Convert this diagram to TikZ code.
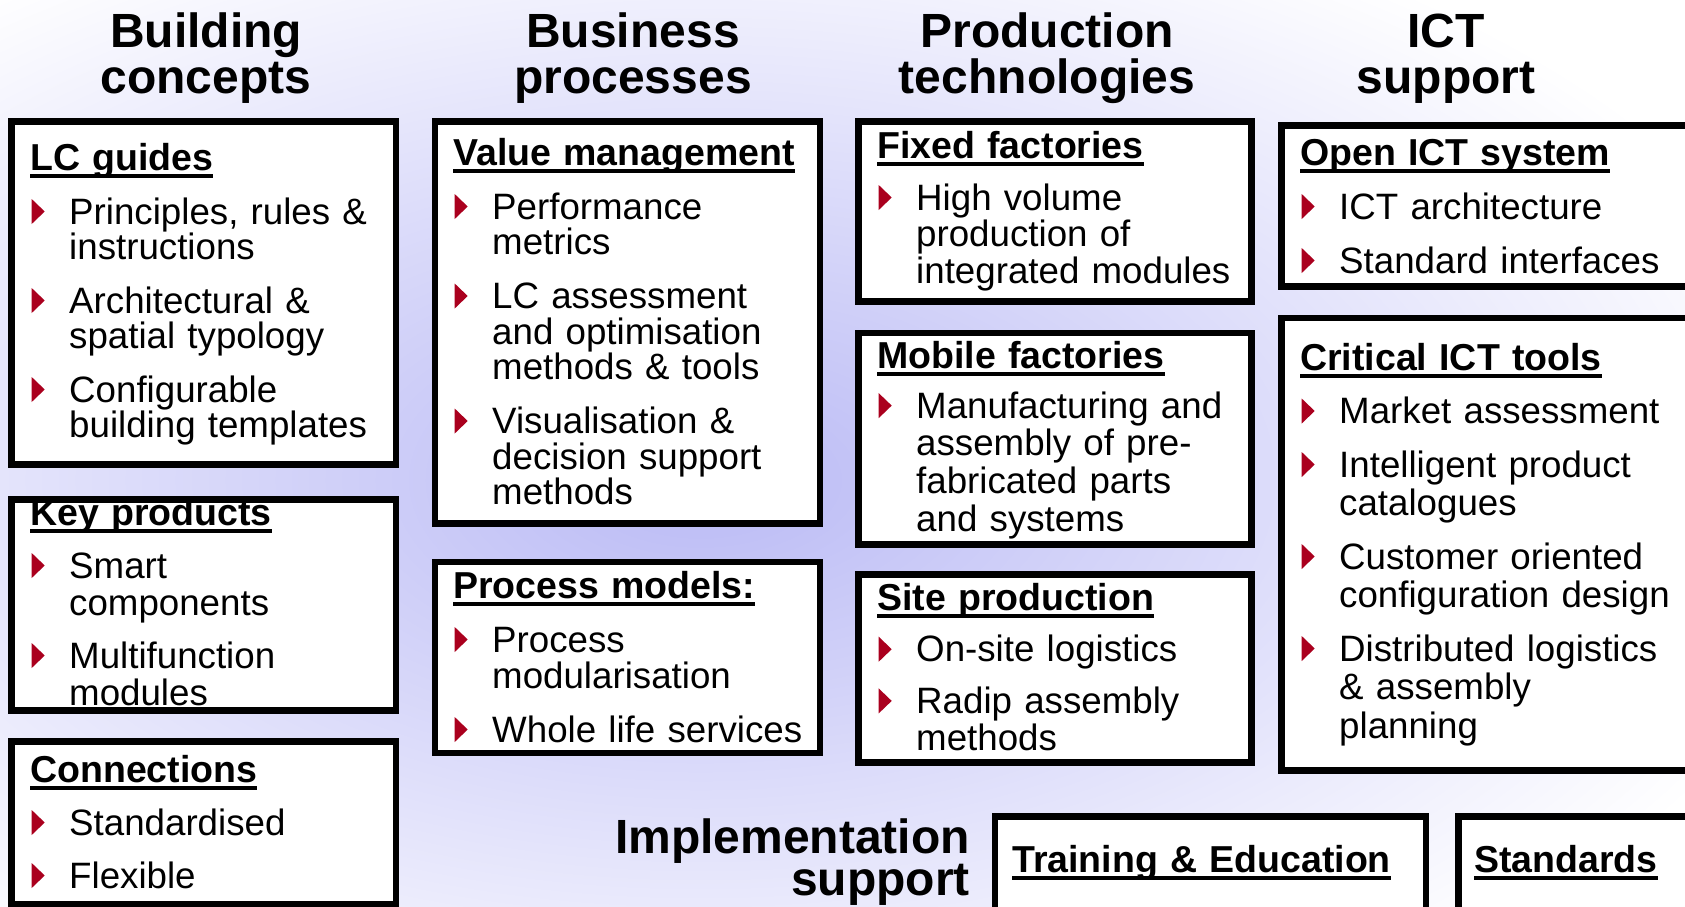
\documentclass[tikz,border=0pt]{standalone}
\usepackage{fontspec}
\setmainfont{Liberation Sans}

\definecolor{bulred}{RGB}{170,0,30}
\definecolor{lavender}{RGB}{186,186,245}

\newlength{\itmgap}
\newsavebox{\hdgbox}
\newcommand{\titlefont}[1]{\fontsize{48}{#1}\bfseries\selectfont}
\newcommand{\bodyfont}[2]{\fontsize{36.7}{#1}\selectfont\setlength{\itmgap}{#2pt}}
\newcommand{\tri}{\tikz[x=1pt,y=1pt,baseline=0pt]\fill[bulred] (0,0) -- (0,25) -- (13,12.5) -- cycle;}
\newcommand{\hdg}[1]{\sbox{\hdgbox}{\fontsize{37.5}{40}\selectfont\bfseries #1}\rlap{\rule[-7.5pt]{\wd\hdgbox}{3.5pt}}\usebox{\hdgbox}}
\newcommand{\itm}[1]{\par\vspace{\itmgap}\noindent\makebox[39pt][l]{\hspace{1.5pt}\tri}#1}
\newcommand{\nl}{\newline\hspace*{39pt}}

\begin{document}
\begin{tikzpicture}[x=1pt, y=-1pt,
  frame/.style={fill=white, anchor=north west, inner sep=0pt, outer sep=0pt},
  border/.style={draw, line width=6.5pt},
  title/.style={text width=420pt, align=center, anchor=base, inner sep=0pt, font=\titlefont{46.5}},
  content/.style={text width=400pt, align=left, anchor=base west, inner sep=0pt,
    font=\bodyfont{36}{18}}]

  % background
  \useasboundingbox (0,0) rectangle (1685,906);
  \clip (0,0) rectangle (1685,906);
  \fill[white] (0,0) rectangle (1685,906);
  \shade[inner color=lavender, outer color=white] (700,480) ellipse [x radius=1150, y radius=620];

  % column titles
  \node[title] (bctitle) at (206,47) {Building\\concepts};
  \node[title] (bptitle) at (633,47) {Business\\processes};
  \node[title] (pttitle) at (1047,47) {Production\\technologies};
  \node[title] (icttitle) at (1446,47) {ICT\\support};

  % building concepts
  \node[frame, minimum width=384.5, minimum height=343.4] (lcbox) at (11.5,121.3) {};
  \node[content, font=\bodyfont{35}{19}] (lctext) at (30,170)
    {\hdg{LC guides}\itm{Principles, rules \&\nl instructions}\itm{Architectural \&\nl spatial typology}\itm{Configurable\nl building templates}};

  \node[frame, minimum width=384.5, minimum height=211] (keybox) at (11.5,499.5) {};
  \node[content, font=\bodyfont{37}{16}] (keytext) at (30,525)
    {\hdg{Key products}\itm{Smart\nl components}\itm{Multifunction\nl modules}};

  \node[frame, minimum width=384.5, minimum height=163] (conbox) at (11.5,741.3) {};
  \node[content, font=\bodyfont{36}{17}] (context) at (30,782)
    {\hdg{Connections}\itm{Standardised}\itm{Flexible}};

  % business processes
  \node[frame, minimum width=385, minimum height=401.7] (valbox) at (435,121.6) {};
  \node[content, font=\bodyfont{35.5}{18.5}] (valtext) at (453,165)
    {\hdg{Value management}\itm{Performance\nl metrics}\itm{LC assessment\nl and optimisation\nl methods \& tools}\itm{Visualisation \&\nl decision support\nl methods}};

  \node[frame, minimum width=385, minimum height=191] (procbox) at (435,562) {};
  \node[content] (proctext) at (453,598)
    {\hdg{Process models:}\itm{Process\nl modularisation}\itm{Whole life services}};

  % production technologies
  \node[frame, minimum width=393, minimum height=180] (fixbox) at (858.3,121.6) {};
  \node[content, font=\bodyfont{36.7}{15}] (fixtext) at (877,158.3)
    {\hdg{Fixed factories}\itm{High volume\nl production of\nl integrated modules}};

  \node[frame, minimum width=393, minimum height=211.3] (mobbox) at (858.3,333) {};
  \node[content, font=\bodyfont{37.8}{12}] (mobtext) at (877,368.3)
    {\hdg{Mobile factories}\itm{Manufacturing and\nl assembly of pre-\nl fabricated parts\nl and systems}};

  \node[frame, minimum width=393, minimum height=188] (sitebox) at (858.3,574.7) {};
  \node[content, font=\bodyfont{36.7}{15}] (sitetext) at (877,610)
    {\hdg{Site production}\itm{On-site logistics}\itm{Radip assembly\nl methods}};

  % ICT support
  \node[frame, minimum width=420, minimum height=161.4] (openbox) at (1281.6,125.3) {};
  \node[content] (opentext) at (1300,165)
    {\hdg{Open ICT system}\itm{ICT architecture}\itm{Standard interfaces}};

  \node[frame, minimum width=420, minimum height=452.3] (critbox) at (1281.6,318) {};
  \node[content, font=\bodyfont{38.5}{15}] (crittext) at (1300,370)
    {\hdg{Critical ICT tools}\itm{Market assessment}\itm{Intelligent product\nl catalogues}\itm{Customer oriented\nl configuration design}\itm{Distributed logistics\nl \& assembly\nl planning}};

  % implementation support
  \node[title, text width=360pt, align=right, anchor=base east, font=\titlefont{37}] (impltitle) at (970,853) {Implementation\\support};
  \node[frame, minimum width=431, minimum height=110] (trainbox) at (995,816.6) {};
  \node[content] (traintext) at (1012,872) {\hdg{Training \& Education}};
  \node[frame, minimum width=260, minimum height=110] (stdbox) at (1458.3,816.6) {};
  \node[content, text width=200pt] (stdtext) at (1474,872) {\hdg{Standards}};

  % frames drawn over the texts
  \foreach \b in {lcbox,keybox,conbox,valbox,procbox,fixbox,mobbox,sitebox,openbox,critbox,trainbox,stdbox}
    \draw[border] (\b.north west) rectangle (\b.south east);

\end{tikzpicture}
\end{document}
